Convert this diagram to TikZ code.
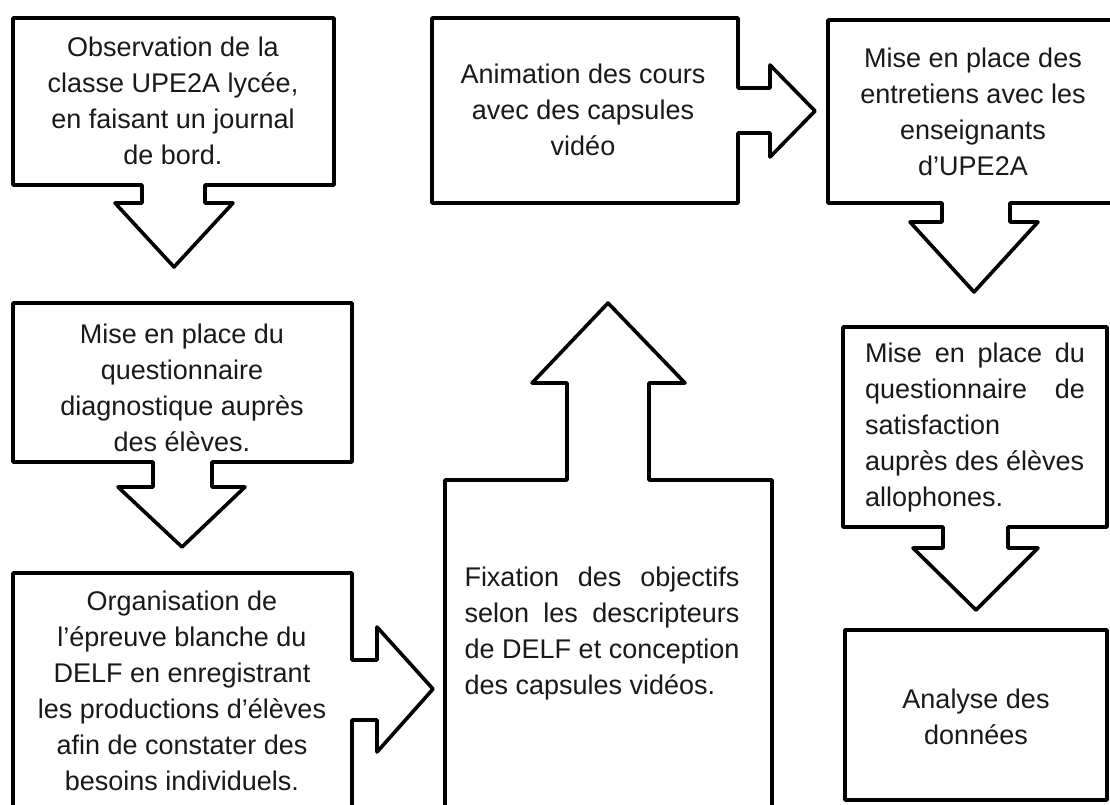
\documentclass[tikz,border=0pt]{standalone}
\usepackage{fontspec}
\setmainfont{Liberation Sans}
\begin{document}
\begin{tikzpicture}[x=1pt,y=-1pt,
  shapeline/.style={draw=black,line width=3.6pt,line join=round,fill=white},
  txt/.style={inner sep=0pt,align=center,font=\fontsize{27}{36}\selectfont,text=black!90}]
\useasboundingbox (0,0) rectangle (1110,805);
\clip (0,0) rectangle (1110,805);
% Box 1 with down arrow
\draw[shapeline] (13,18) -- (334,18) -- (334,185) -- (205,185) -- (205,203) -- (233,203) -- (174,267) -- (115,203) -- (142,203) -- (142,185) -- (13,185) -- cycle;
% Box 2 with down arrow
\draw[shapeline] (13,303) -- (352,303) -- (352,462) -- (212,462) -- (212,487) -- (245,487) -- (182,547) -- (118,487) -- (153,487) -- (153,462) -- (13,462) -- cycle;
% Box 3 with right arrow
\draw[shapeline] (13,573) -- (352,573) -- (352,660) -- (377,660) -- (377,627) -- (433,689) -- (377,752) -- (377,720) -- (352,720) -- (352,830) -- (13,830) -- cycle;
% Box 4 with up arrow
\draw[shapeline] (445,480) -- (567,480) -- (567,383) -- (532,383) -- (608,303) -- (685,383) -- (649,383) -- (649,480) -- (772,480) -- (772,830) -- (445,830) -- cycle;
% Box 5 with right arrow
\draw[shapeline] (432,18) -- (738,18) -- (738,88) -- (770,88) -- (770,65) -- (815,111) -- (770,157) -- (770,133) -- (738,133) -- (738,203) -- (432,203) -- cycle;
% Box 6 with down arrow
\draw[shapeline] (828,20) -- (1125,20) -- (1125,203) -- (1010,203) -- (1010,222) -- (1038,222) -- (974,292) -- (910,222) -- (942,222) -- (942,203) -- (828,203) -- cycle;
% Box 7 with down arrow
\draw[shapeline] (843,327) -- (1107,327) -- (1107,527) -- (1008,527) -- (1008,548) -- (1038,548) -- (976,610) -- (913,548) -- (943,548) -- (943,527) -- (843,527) -- cycle;
% Box 8
\draw[shapeline] (845,630) rectangle (1107,800);

\node[txt] (t1) at (173,101) {Observation de la\\classe UPE2A lycée,\\en faisant un journal\\de bord.};
\node[txt] (t2) at (182,388) {Mise en place du\\questionnaire\\diagnostique auprès\\des élèves.};
\node[txt] (t3) at (182,691) {Organisation de\\l’épreuve blanche du\\DELF en enregistrant\\les productions d’élèves\\afin de constater des\\besoins individuels.};
\node[txt,align=left] (t4) at (602,634) {\makebox[275pt][s]{Fixation des objectifs}\\\makebox[275pt][s]{selon les descripteurs}\\\makebox[275pt][s]{de DELF et conception}\\des capsules vidéos.};
\node[txt] (t5) at (583,110) {Animation des cours\\avec des capsules\\vidéo};
\node[txt] (t6) at (973,112) {Mise en place des\\entretiens avec les\\enseignants\\d’UPE2A};
\node[txt,align=left] (t7) at (975,428) {\makebox[220pt][s]{Mise en place du}\\\makebox[220pt][s]{questionnaire de}\\satisfaction\\auprès des élèves\\allophones.};
\node[txt] (t8) at (976,717) {Analyse des\\données};
\end{tikzpicture}
\end{document}
